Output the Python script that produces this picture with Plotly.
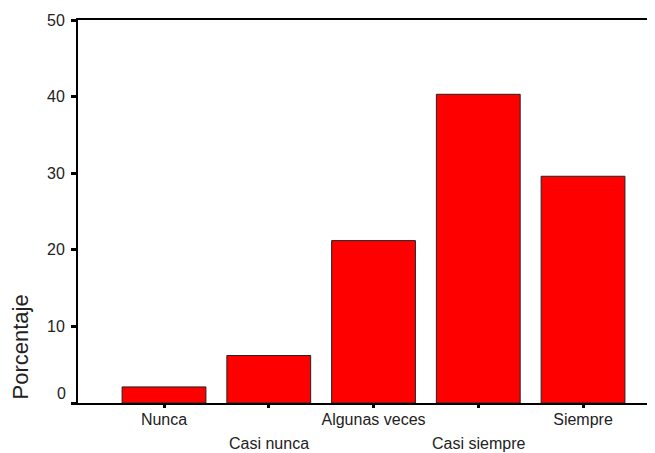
import plotly.graph_objects as go

categories = ["Nunca", "Casi nunca", "Algunas veces", "Casi siempre", "Siempre"]
values = [2.1, 6.2, 21.2, 40.3, 29.6]
y_ticks = [0, 10, 20, 30, 40, 50]
y_title = "Porcentaje"

FONT = "Liberation Sans, Arial, sans-serif"
pos = list(range(len(categories)))

fig = go.Figure()
fig.add_trace(go.Bar(
    x=pos, y=values, width=0.8,
    marker=dict(color="#FF0000", line=dict(color="#222222", width=1)),
))

# upper row labels as ticks, lower row (staggered) as annotations
ticktext = [c if i % 2 == 0 else "" for i, c in enumerate(categories)]
annotations = []
for i, c in enumerate(categories):
    if i % 2 == 1:
        annotations.append(dict(x=i, y=0, xref="x", yref="y", text=c, showarrow=False,
                                yanchor="top", yshift=-31, borderpad=0,
                                font=dict(family=FONT, size=16, color="#222222")))
# zero label slightly raised
annotations.append(dict(x=0, y=0, xref="paper", yref="y", text=str(y_ticks[0]), showarrow=False,
                        xanchor="right", xshift=-10, yshift=10,
                        font=dict(family=FONT, size=16, color="#222222")))
annotations.append(dict(x=0, y=0, xref="paper", yref="y", text=y_title, showarrow=False,
                        textangle=-90, xanchor="center", yanchor="bottom", xshift=-58, yshift=1,
                        font=dict(family=FONT, size=22, color="#222222")))

fig.update_layout(
    width=647, height=445,
    margin=dict(l=70, r=0, t=12, b=50),
    paper_bgcolor="white", plot_bgcolor="white",
    showlegend=False,
    font=dict(family=FONT, size=16, color="#222222"),
    annotations=annotations,
    xaxis=dict(range=[-0.821, 4.687], tickvals=pos, ticktext=ticktext,
               showline=True, linecolor="black", linewidth=2, mirror=True,
               ticks="outside", ticklen=3, tickwidth=3, tickcolor="black",
               ticklabelstandoff=-2,
               showgrid=False, zeroline=False, fixedrange=True),
    yaxis=dict(range=[0, 50], tickvals=y_ticks,
               ticktext=[""] + [str(v) for v in y_ticks[1:]],
               showline=True, linecolor="black", linewidth=2,
               ticks="outside", ticklen=5, tickwidth=3, tickcolor="black",
               ticklabelstandoff=3,
               showgrid=False, zeroline=False, fixedrange=True),
)

fig.write_html("out.html")
